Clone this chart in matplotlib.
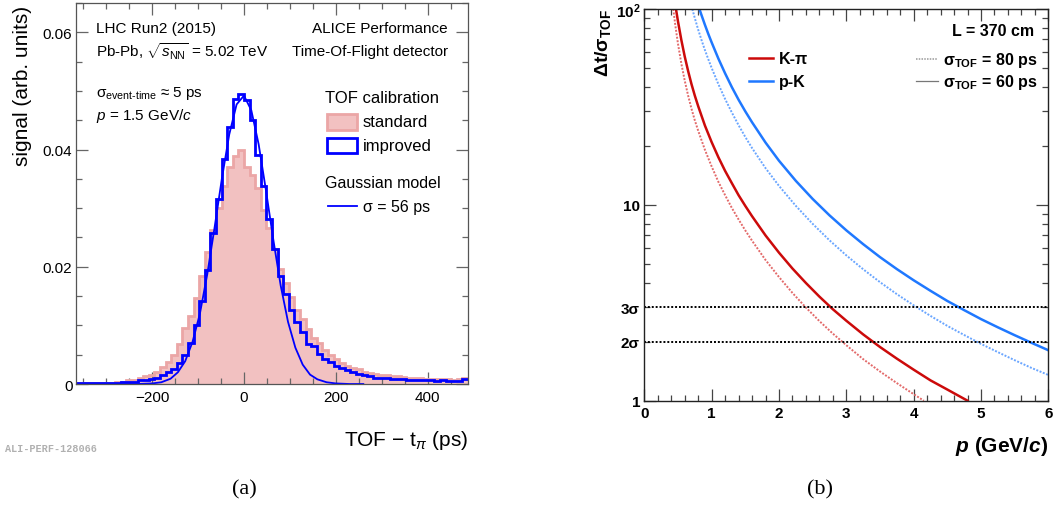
import matplotlib

matplotlib.use("Agg")
import matplotlib.pyplot as plt
import numpy as np
from matplotlib.patches import Rectangle
from matplotlib.ticker import FixedLocator, FixedFormatter, FuncFormatter, MultipleLocator

plt.rcParams["font.family"] = ["Liberation Sans", "DejaVu Sans"]
plt.rcParams["mathtext.fontset"] = "custom"
plt.rcParams["mathtext.rm"] = "Liberation Sans"
plt.rcParams["mathtext.it"] = "Liberation Sans:italic"
plt.rcParams["mathtext.bf"] = "Liberation Sans:bold"
plt.rcParams["mathtext.bfit"] = "Liberation Sans:italic:bold"

# ---- panel (a): TOF - t_pi histograms, 12.2 ps bins starting at -366 ps
BIN_WIDTH = 12.2
FIRST_EDGE = -366.0
STANDARD = [
    0.0001, 0.0001, 0.0001, 0.0001, 0.0002, 0.0002, 0.0002, 0.0003, 0.0004, 0.0006,
    0.0007, 0.0010, 0.0013, 0.0016, 0.0021, 0.0029, 0.0038, 0.0049, 0.0069, 0.0095,
    0.0116, 0.0147, 0.0185, 0.0226, 0.0263, 0.0300, 0.0337, 0.0371, 0.0389, 0.0399,
    0.0371, 0.0356, 0.0334, 0.0297, 0.0266, 0.0231, 0.0197, 0.0173, 0.0149, 0.0127,
    0.0111, 0.0094, 0.0078, 0.0070, 0.0058, 0.0049, 0.0042, 0.0036, 0.0031, 0.0027,
    0.0025, 0.0021, 0.0019, 0.0017, 0.0015, 0.0015, 0.0013, 0.0013, 0.0012, 0.0011,
    0.0011, 0.0010, 0.0009, 0.0009, 0.0008, 0.0008, 0.0008, 0.0007, 0.0008, 0.0010,
]
IMPROVED = [
    0.0001, 0.0001, 0.0001, 0.0001, 0.0001, 0.0002, 0.0002, 0.0002, 0.0003, 0.0003,
    0.0004, 0.0006, 0.0007, 0.0009, 0.0011, 0.0015, 0.0020, 0.0026, 0.0035, 0.0050,
    0.0070, 0.0100, 0.0142, 0.0194, 0.0257, 0.0315, 0.0384, 0.0438, 0.0486, 0.0495,
    0.0484, 0.0450, 0.0391, 0.0337, 0.0282, 0.0231, 0.0185, 0.0154, 0.0126, 0.0106,
    0.0089, 0.0069, 0.0065, 0.0051, 0.0043, 0.0038, 0.0031, 0.0027, 0.0024, 0.0020,
    0.0017, 0.0015, 0.0013, 0.0011, 0.0010, 0.0010, 0.0009, 0.0008, 0.0008, 0.0007,
    0.0007, 0.0006, 0.0006, 0.0006, 0.0005, 0.0006, 0.0005, 0.0005, 0.0005, 0.0008,
]
# Gaussian model curve (sigma = 56 ps)
GAUSS_T = [-366, -300, -260, -230, -200, -180, -160, -144, -128, -112, -96, -80,
           -64, -48, -32, -16, 0, 16, 32, 48, 64, 80, 96, 112, 128, 144, 160,
           180, 200, 230, 260]
GAUSS_V = [0.0, 0.0, 0.0, 0.00001, 0.0001, 0.0003, 0.0009, 0.0020, 0.0039,
           0.0072, 0.0120, 0.0187, 0.0267, 0.0351, 0.0426, 0.0477, 0.0492,
           0.0467, 0.0409, 0.0330, 0.0246, 0.0168, 0.0106, 0.0062, 0.0033,
           0.0016, 0.0008, 0.0003, 0.0001, 0.0, 0.0]

# ---- panel (b): separation power vs momentum
KPI_60_P = [0.47, 0.50, 0.55, 0.60, 0.65, 0.70, 0.75, 0.80, 0.90, 1.0, 1.1, 1.2,
            1.3, 1.4, 1.5, 1.6, 1.8, 2.0, 2.2, 2.4, 2.6, 2.8, 3.0, 3.25, 3.5,
            3.75, 4.0, 4.25, 4.5, 4.8]
KPI_60_V = [100, 86.4, 69.4, 57.2, 48.3, 41.4, 36.1, 31.9, 25.4, 20.9, 17.5, 14.9,
            12.9, 11.2, 9.87, 8.75, 6.98, 5.70, 4.73, 3.99, 3.40, 2.93, 2.56, 2.18,
            1.88, 1.64, 1.44, 1.27, 1.14, 1.0]
KPI_80_P = [0.43, 0.46, 0.50, 0.55, 0.60, 0.65, 0.70, 0.75, 0.80, 0.90, 1.0, 1.1,
            1.2, 1.3, 1.4, 1.5, 1.6, 1.8, 2.0, 2.2, 2.4, 2.6, 2.8, 3.0, 3.25,
            3.5, 3.75, 4.0, 4.15]
KPI_80_V = [100, 82.7, 66.4, 52.6, 43.1, 36.2, 31.0, 27.0, 23.9, 19.1, 15.7, 13.1,
            11.2, 9.64, 8.42, 7.40, 6.56, 5.23, 4.28, 3.55, 2.99, 2.55, 2.20, 1.92,
            1.63, 1.41, 1.23, 1.08, 1.0]
PK_60_P = [0.818, 0.85, 0.90, 0.95, 1.0, 1.1, 1.2, 1.3, 1.4, 1.5, 1.6, 1.8, 2.0,
           2.25, 2.5, 2.75, 3.0, 3.25, 3.5, 3.75, 4.0, 4.25, 4.5, 4.75, 5.0,
           5.25, 5.5, 5.75, 6.0]
PK_60_V = [100, 92.9, 83.0, 74.6, 67.5, 55.8, 46.9, 39.9, 34.4, 30.0, 26.4, 20.8,
           16.8, 13.26, 10.72, 8.84, 7.41, 6.30, 5.41, 4.70, 4.12, 3.64, 3.23,
           2.90, 2.61, 2.37, 2.16, 1.975, 1.81]
PK_80_P = [0.713, 0.75, 0.80, 0.85, 0.90, 0.95, 1.0, 1.1, 1.2, 1.3, 1.4, 1.5, 1.6,
           1.8, 2.0, 2.25, 2.5, 2.75, 3.0, 3.25, 3.5, 3.75, 4.0, 4.25, 4.5, 4.75,
           5.0, 5.25, 5.5, 5.75, 6.0]
PK_80_V = [100, 89.8, 78.4, 69.3, 61.7, 55.4, 50.0, 41.3, 34.7, 29.6, 25.5, 22.2,
           19.5, 15.4, 12.5, 9.88, 8.0, 6.59, 5.52, 4.69, 4.03, 3.50, 3.07, 2.71,
           2.41, 2.165, 1.95, 1.77, 1.61, 1.47, 1.353]
SIGMA_LEVELS = [2, 3]

RED = "#cc0a0a"
RED_LIGHT = "#e36a6a"
BLUE = "#1f78ff"
BLUE_LIGHT = "#6aa6ff"

fig = plt.figure(figsize=(10.58, 5.06), dpi=100)

# ------------------------------------------------------------------ (a)
ax = fig.add_axes([0.0718, 0.2391, 0.3705, 0.753])
edges = FIRST_EDGE + BIN_WIDTH * np.arange(len(STANDARD) + 1)
ax.stairs(STANDARD, edges, fill=True, color="#f2c1c1", zorder=1)
ax.stairs(STANDARD, edges, baseline=None, color="#eba6a6", lw=2.0, zorder=2)
ax.stairs(IMPROVED, edges, baseline=None, color="#0000ff", lw=2.0, zorder=3)
ax.plot(GAUSS_T, GAUSS_V, color="#0000ff", lw=1.3, zorder=4)
ax.set_xlim(FIRST_EDGE, edges[-1])
ax.set_ylim(0, 0.065)

ax.xaxis.set_major_locator(FixedLocator([-200, 0, 200, 400]))
ax.xaxis.set_minor_locator(MultipleLocator(50))
ax.yaxis.set_major_locator(MultipleLocator(0.02))
ax.yaxis.set_minor_locator(MultipleLocator(0.005))
ax.yaxis.set_major_formatter(FuncFormatter(lambda v, _: "0" if v == 0 else f"{v:.2f}"))
ax.tick_params(which="both", direction="in", top=True, right=True,
               color="#666666", width=0.9, labelsize=11)
ax.tick_params(which="major", length=8.5)
ax.tick_params(which="minor", length=4.3)
ax.tick_params(axis="y", pad=2.5)
ax.tick_params(axis="x", pad=4)
for s in ax.spines.values():
    s.set_color("#555555")
    s.set_linewidth(0.9)
    s.set_zorder(6)

fig.text(0.0208, 0.988, "signal (arb. units)", rotation=90, ha="center",
         va="top", fontsize=15)
fig.text(0.4423, 0.1304, r"TOF $-$ t$_{\pi}$ (ps)", ha="right", va="center",
         fontsize=15)

tx = ax.transAxes
ax.text(0.051, 0.934, "LHC Run2 (2015)", transform=tx, va="center", fontsize=11)
ax.text(0.051, 0.874, r"Pb-Pb, $\sqrt{s_{\mathrm{NN}}}$ = 5.02 TeV", transform=tx,
        va="center", fontsize=11)
ax.text(0.051, 0.766, r"σ$_{\text{event-time}}$ ≈ 5 ps", transform=tx,
        va="center", fontsize=11)
ax.text(0.051, 0.706, r"$p$ = 1.5 GeV/$c$", transform=tx, va="center", fontsize=11)
ax.text(0.949, 0.934, "ALICE Performance", transform=tx, ha="right",
        va="center", fontsize=11)
ax.text(0.949, 0.874, "Time-Of-Flight detector", transform=tx, ha="right",
        va="center", fontsize=11)

# legend, ROOT-like
ax.text(0.635, 0.751, "TOF calibration", transform=tx, va="center", fontsize=12)
ax.add_patch(Rectangle((0.640, 0.667), 0.077, 0.042, transform=tx,
                       facecolor="#f2c1c1", edgecolor="#eba6a6", lw=2, zorder=7))
ax.text(0.732, 0.688, "standard", transform=tx, va="center", fontsize=12)
ax.add_patch(Rectangle((0.640, 0.606), 0.077, 0.040, transform=tx,
                       facecolor="none", edgecolor="#0000ff", lw=2, zorder=7))
ax.text(0.732, 0.627, "improved", transform=tx, va="center", fontsize=12)
ax.text(0.635, 0.530, "Gaussian model", transform=tx, va="center", fontsize=11.5)
ax.plot([0.643, 0.717], [0.467, 0.467], transform=tx, color="#0000ff", lw=1.3)
ax.text(0.732, 0.467, "σ = 56 ps", transform=tx, va="center", fontsize=11.5)

fig.text(0.0047, 0.1126, "ALI-PERF-128066", family="Liberation Mono",
         fontweight="bold", fontsize=7.3, color="#b0b0b0", va="center")
fig.text(0.2306, 0.032, "(a)", family="Liberation Serif", fontsize=16,
         ha="center", va="center")

# ------------------------------------------------------------------ (b)
bx = fig.add_axes([0.609, 0.2061, 0.3819, 0.7741])
bx.set_yscale("log")
bx.plot(KPI_80_P, KPI_80_V, color=RED_LIGHT, lw=1.4, ls=(0, (1, 0.8)))
bx.plot(PK_80_P, PK_80_V, color=BLUE_LIGHT, lw=1.4, ls=(0, (1, 0.8)))
bx.plot(KPI_60_P, KPI_60_V, color=RED, lw=1.8)
bx.plot(PK_60_P, PK_60_V, color=BLUE, lw=1.8)
for level in SIGMA_LEVELS:
    bx.axhline(level, color="black", lw=1.4, ls=(0, (1, 1)))
bx.set_xlim(0, 6)
bx.set_ylim(1, 100)

bx.xaxis.set_major_locator(MultipleLocator(1))
bx.xaxis.set_minor_locator(MultipleLocator(0.2))
bx.yaxis.set_major_locator(FixedLocator([1, 10, 100]))
bx.yaxis.set_major_formatter(FixedFormatter(["1", "10", r"$\mathbf{10^{2}}$"]))
bx.yaxis.set_minor_locator(FixedLocator([2, 3, 4, 5, 6, 7, 8, 9,
                                         20, 30, 40, 50, 60, 70, 80, 90]))
bx.yaxis.set_minor_formatter(FuncFormatter(
    lambda v, _: f"{int(round(v))}σ" if int(round(v)) in SIGMA_LEVELS else ""))
bx.tick_params(which="both", direction="in", top=True, right=True,
               color="#444444", width=0.9, labelsize=11)
bx.tick_params(which="major", length=8.5)
bx.tick_params(which="minor", length=4)
bx.tick_params(axis="y", pad=3)
bx.tick_params(axis="x", pad=3.5)
for s in bx.spines.values():
    s.set_color("#222222")
    s.set_linewidth(1.0)

fig.text(0.570, 0.982, r"Δt/σ$_{\mathbf{TOF}}$", rotation=90, ha="center",
         va="top", fontsize=14, fontweight="bold")
fig.text(0.9905, 0.117, r"$\mathbfit{p}$ (GeV/$\mathbfit{c}$)", ha="right",
         va="center", fontsize=15, fontweight="bold")

bt = bx.transAxes
bx.text(0.9646, 0.944, "L = 370 cm", transform=bt, ha="right", va="center",
        fontsize=11.5, fontweight="bold")
bx.plot([0.26, 0.319], [0.874, 0.874], transform=bt, color=RED, lw=1.8)
bx.text(0.332, 0.874, "K-π", transform=bt, va="center", fontsize=11.5,
        fontweight="bold")
bx.plot([0.26, 0.319], [0.816, 0.816], transform=bt, color=BLUE, lw=1.8)
bx.text(0.332, 0.816, "p-K", transform=bt, va="center", fontsize=11.5,
        fontweight="bold")
bx.plot([0.672, 0.727], [0.872, 0.872], transform=bt, color="#999999", lw=1.1,
        ls=(0, (1, 0.8)))
bx.text(0.739, 0.872, r"σ$_{\mathbf{TOF}}$ = 80 ps", transform=bt, va="center",
        fontsize=11.5, fontweight="bold")
bx.plot([0.672, 0.727], [0.816, 0.816], transform=bt, color="#777777", lw=0.9)
bx.text(0.739, 0.816, r"σ$_{\mathbf{TOF}}$ = 60 ps", transform=bt, va="center",
        fontsize=11.5, fontweight="bold")

fig.text(0.775, 0.032, "(b)", family="Liberation Serif", fontsize=16,
         ha="center", va="center")

fig.canvas.draw()
for lbl in bx.get_xticklabels() + bx.get_yticklabels(which="both"):
    lbl.set_fontweight("bold")

fig.savefig("out.png", dpi=100)
